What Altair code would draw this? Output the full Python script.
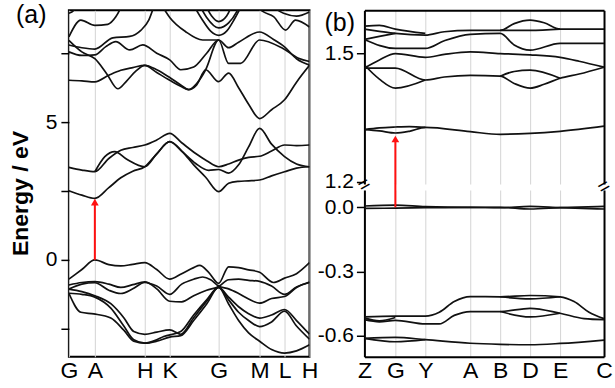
import altair as alt
import pandas as pd

FONT = "Liberation Sans"

# ---------------- k-path labels ----------------
A_KPOS = [0, 26, 76, 101, 150, 191, 216, 241]
A_KLAB = ["G", "A", "H", "K", "G", "M", "L", "H"]
B_KPOS = [0, 31, 61, 106, 136, 166, 196, 240]
B_KLAB = ["Z", "G", "Y", "A", "B", "D", "E", "C"]

# ---------------- energy axes ----------------
A_YDOMAIN = [-3.514, 9.058]
A_YTICKS = [-2.5, 0, 2.5, 5, 7.5]
A_YLABELED = [0, 5]
BU_YDOMAIN = [1.1946, 1.6012]
BU_YTICKS = [1.2, 1.5]
BL_YDOMAIN = [-0.698, 0.0807]
BL_YTICKS = [-0.6, -0.3, 0.0]

# ---------------- panel (a) bands: (k, E/eV) ----------------
A_V1 = [(0, -0.70), (13, -0.35), (26, 0.00), (40, -0.17), (52, -0.22), (64, -0.16), (76, -0.10), (88, -0.35),
        (101, -0.70), (113, -0.50), (125, -0.28), (131, -0.20), (140, -0.45), (150, -0.85), (160, -0.25),
        (170, -0.28), (180, -0.36), (191, -0.45), (205, -0.82), (216, -0.66), (228, -0.50), (241, -0.10)]
A_V2 = [(0, -0.91), (13, -0.82), (26, -0.79), (40, -0.88), (52, -1.00), (64, -0.90), (76, -0.80), (88, -1.05),
        (101, -1.50), (113, -1.52), (125, -1.30), (138, -1.10), (150, -0.97), (160, -0.72), (170, -0.70),
        (180, -0.74), (191, -0.78), (203, -0.95), (216, -1.25), (228, -0.98), (241, -0.82)]
A_V3 = [(0, -1.06), (13, -0.88), (26, -0.83), (40, -1.10), (52, -1.22), (64, -1.05), (76, -0.82), (88, -0.95),
        (101, -1.25), (113, -0.88), (125, -0.70), (134, -0.62), (142, -0.72), (150, -0.95), (160, -1.05),
        (170, -1.22), (180, -1.42), (191, -1.57), (203, -1.40), (216, -1.33), (228, -1.00), (241, -0.80)]
A_V4 = [(0, -1.06), (13, -1.15), (26, -1.30), (42, -1.59), (55, -2.10), (65, -2.60), (76, -2.70), (88, -2.62),
        (101, -2.54), (112, -2.70), (125, -2.10), (138, -1.50), (150, -1.00), (160, -1.35), (170, -1.70),
        (180, -1.95), (191, -2.11), (203, -2.00), (216, -1.80), (228, -2.20), (241, -2.70)]
A_V5 = [(0, -1.21), (12, -1.90), (25, -1.96), (42, -2.11), (55, -2.55), (65, -2.95), (76, -3.02), (88, -2.90),
        (95, -2.78), (112, -2.60), (125, -2.00), (138, -1.45), (150, -1.00), (160, -1.45), (170, -1.90),
        (180, -2.20), (191, -2.42), (203, -2.25), (216, -1.86), (228, -2.40), (241, -2.88)]
A_V6 = [(0, -1.21), (13, -1.25), (26, -1.35), (42, -1.75), (55, -2.40), (65, -2.90), (76, -3.02), (88, -2.95),
        (101, -2.80), (112, -2.75), (125, -2.20), (138, -1.60), (150, -1.00), (160, -1.60), (170, -2.20),
        (180, -2.65), (191, -2.95), (203, -3.25), (216, -3.38), (228, -3.30), (241, -3.08)]
A_C1 = [(0, 2.51), (13, 2.35), (26, 2.23), (40, 2.62), (52, 2.98), (64, 3.22), (76, 3.38), (88, 3.85), (101, 4.29),
        (113, 3.95), (125, 3.45), (137, 3.00), (150, 2.48), (160, 2.78), (170, 2.85), (180, 2.87), (191, 2.90),
        (203, 3.05), (216, 3.20), (228, 3.33), (241, 3.38)]
A_C2 = [(0, 3.36), (13, 3.26), (26, 3.20), (40, 3.68), (52, 3.98), (64, 4.08), (76, 4.17), (88, 4.35), (101, 4.59),
        (113, 4.25), (127, 3.86), (138, 3.60), (150, 3.38), (160, 3.48), (170, 3.62), (180, 3.72), (191, 3.76),
        (203, 3.95), (216, 4.17), (228, 4.15), (241, 4.17)]
A_C3 = [(26, 3.20), (36, 3.75), (46, 3.93), (58, 3.65), (76, 3.38), (88, 3.85), (101, 4.29), (113, 3.95),
        (127, 3.50), (140, 3.25), (150, 3.28), (160, 3.15), (170, 3.45), (180, 4.10), (191, 4.77), (203, 4.20),
        (216, 3.75), (228, 3.48), (241, 3.38)]
A_U1 = [(0, 6.52), (13, 6.50), (26, 6.46), (40, 6.70), (52, 6.88), (64, 6.98), (76, 7.06), (88, 6.80), (101, 6.52),
        (112, 6.30), (120, 6.18), (128, 6.35), (137, 6.90), (150, 6.47), (160, 6.78), (170, 6.25), (180, 5.65),
        (191, 5.13), (203, 5.45), (216, 5.81), (228, 6.45), (241, 7.06)]
A_U2 = [(0, 7.97), (13, 7.55), (26, 7.30), (38, 6.75), (49, 6.21), (58, 6.50), (67, 6.85), (76, 7.06), (88, 6.90),
        (101, 6.62), (112, 6.35), (120, 6.18), (128, 6.40), (137, 6.90), (150, 7.98), (160, 7.70), (170, 7.90),
        (191, 8.27), (205, 8.00), (216, 7.73), (228, 7.30), (241, 7.07)]
A_U3 = [(0, 7.55), (13, 7.42), (26, 7.44), (37, 7.74), (47, 7.92), (61, 7.62), (74, 7.80), (88, 7.50), (101, 7.26),
        (112, 6.90), (125, 7.00), (138, 7.50), (150, 7.98), (160, 7.13), (172, 7.13), (191, 7.98), (214, 7.68),
        (230, 7.32), (241, 7.20)]
A_U4 = [(0, 7.80), (13, 7.70), (26, 7.65), (44, 8.06), (61, 8.11), (72, 8.33), (80, 8.70), (86, 9.30)]
A_U5 = [(92, 9.30), (101, 8.80), (117, 8.28), (134, 7.98), (150, 7.98)]
A_T1 = [(124, 9.30), (133, 8.75), (142, 8.30), (150, 8.15), (158, 8.30), (166, 8.75), (174, 9.30)]
A_T2 = [(130, 9.30), (138, 8.80), (150, 8.42), (160, 8.60), (168, 9.00), (172, 9.30)]
A_T3 = [(136, 9.30), (143, 8.85), (150, 8.65), (158, 8.85), (164, 9.30)]
A_T4 = [(0, 8.09), (12, 8.70), (26, 8.51), (39, 8.55), (47, 8.82), (54, 9.30)]
A_T5 = [(0, 8.95), (5, 9.06), (8, 9.30)]
A_T6 = [(185, 9.30), (195, 9.00), (205, 8.83), (217, 8.34), (227, 8.70), (241, 8.45)]
A_T7 = [(200, 9.30), (215, 8.95), (228, 8.85), (241, 9.00)]

# ---------------- panel (b) bands ----------------
B_C1 = [(0, 1.322), (15, 1.319), (31, 1.314), (45, 1.318), (61, 1.327), (106, 1.317), (136, 1.311), (166, 1.313),
        (196, 1.318), (240, 1.330)]
B_C2 = [(0, 1.322), (15, 1.326), (31, 1.328), (45, 1.329), (61, 1.327)]
B_U1 = [(0, 1.564), (15, 1.566), (31, 1.557), (61, 1.547)]
B_U2 = [(0, 1.557), (15, 1.552), (31, 1.547), (61, 1.543), (80, 1.551), (106, 1.554), (136, 1.554), (150, 1.570),
        (166, 1.578), (180, 1.572), (196, 1.557), (240, 1.557)]
B_U3 = [(136, 1.554), (166, 1.554), (196, 1.557)]
B_U4 = [(0, 1.533), (15, 1.540), (31, 1.547)]
B_U5 = [(0, 1.533), (31, 1.512), (61, 1.512), (80, 1.530), (106, 1.545), (136, 1.547), (150, 1.520), (166, 1.508),
        (196, 1.524), (240, 1.524)]
B_U6 = [(0, 1.466), (15, 1.485), (31, 1.500), (61, 1.491), (80, 1.498), (106, 1.504), (136, 1.500), (166, 1.497),
        (196, 1.491), (215, 1.482), (240, 1.468)]
B_U7 = [(0, 1.466), (31, 1.466), (61, 1.438), (80, 1.445), (106, 1.449), (136, 1.447), (150, 1.430), (166, 1.419),
        (180, 1.428), (196, 1.442), (215, 1.452), (240, 1.468)]
B_U8 = [(0, 1.473), (15, 1.440), (31, 1.419), (61, 1.438)]
B_U9 = [(136, 1.447), (150, 1.458), (166, 1.461), (196, 1.442)]

B_V0A = [(0, 0.006), (31, 0.010), (61, 0.003), (106, 0.0), (136, 0.0), (166, -0.008), (196, -0.002), (240, 0.004)]
B_V0B = [(0, -0.005), (31, -0.004), (61, -0.002), (106, 0.0), (136, -0.002), (166, 0.004), (196, -0.002),
         (240, -0.008)]
B_V1 = [(0, -0.512), (31, -0.508), (61, -0.508), (75, -0.490), (90, -0.440), (106, -0.417), (136, -0.418),
        (166, -0.412), (196, -0.418), (210, -0.440), (225, -0.490), (240, -0.520)]
B_V2 = [(136, -0.418), (166, -0.428), (196, -0.418)]
B_V3 = [(0, -0.525), (15, -0.535), (31, -0.528), (61, -0.545), (75, -0.545), (90, -0.505), (106, -0.487),
        (136, -0.487), (166, -0.472), (196, -0.495), (220, -0.520), (240, -0.525)]
B_V4 = [(136, -0.487), (166, -0.512), (196, -0.495)]
B_V5 = [(0, -0.518), (15, -0.530), (31, -0.515)]
B_V6 = [(0, -0.612), (31, -0.608), (61, -0.618), (106, -0.635), (136, -0.640), (166, -0.642), (196, -0.636),
        (240, -0.620)]
B_V7 = [(0, -0.612), (31, -0.628), (61, -0.618)]

# red arrows: k, start E, arrow-head E
A_ARROW = [26, 0.0, 2.10]
BL_ARROW = [31, 0.0, 0.109]
BU_ARROW = [31, 1.1946, 1.300]

PANEL_TAGS = ["(a)", "(b)"]
Y_TITLE = "Energy / eV"


def to_df(bands):
    rows = []
    for name, pts in bands.items():
        for k, e in pts:
            rows.append({"band": name, "k": k, "E": e})
    return pd.DataFrame(rows)


def lab_expr(pos, labs):
    s = ""
    for p, l in zip(pos, labs):
        s += f"datum.value == {p} ? '{l}' : "
    return s + "''"


df_a = to_df({"v1": A_V1, "v2": A_V2, "v3": A_V3, "v4": A_V4, "v5": A_V5, "v6": A_V6,
              "c1": A_C1, "c2": A_C2, "c3": A_C3, "u1": A_U1, "u2": A_U2, "u3": A_U3, "u4": A_U4,
              "u5": A_U5, "t1": A_T1, "t2": A_T2, "t3": A_T3, "t4": A_T4, "t5": A_T5, "t6": A_T6, "t7": A_T7})
df_bu = to_df({"c1": B_C1, "c2": B_C2, "u1": B_U1, "u2": B_U2, "u3": B_U3, "u4": B_U4, "u5": B_U5,
               "u6": B_U6, "u7": B_U7, "u8": B_U8, "u9": B_U9})
df_bl = to_df({"a": B_V0A, "b": B_V0B, "v1": B_V1, "v2": B_V2, "v3": B_V3, "v4": B_V4, "v5": B_V5,
               "v6": B_V6, "v7": B_V7})

LINE = dict(color="#111111", strokeWidth=1.7, interpolate="monotone", clip=True)
RED = "#ff1010"
GRID = "#d4d4d4"
A_W, A_H = 241, 347
B_W, BU_H, BL_H = 240, 174, 167
XLAB_SIZE = 23
YLAB_SIZE = 21

# ================= panel (a) =================
xa = alt.Scale(domain=[0, 241], nice=False, zero=False)
ya = alt.Scale(domain=A_YDOMAIN, nice=False, zero=False)
ya_lab = " || ".join(f"datum.value == {v}" for v in A_YLABELED) + " ? datum.label : ''"

a_lines = alt.Chart(df_a).mark_line(**LINE).encode(
    x=alt.X("k:Q", scale=xa, axis=alt.Axis(
        values=A_KPOS, labelExpr=lab_expr(A_KPOS, A_KLAB), title=None, grid=True, gridColor=GRID,
        gridWidth=1, ticks=False, domain=False, labelFont=FONT, labelFontSize=XLAB_SIZE, labelColor="black",
        labelPadding=3, labelFlush=False, labelOverlap=False)),
    y=alt.Y("E:Q", scale=ya, axis=alt.Axis(
        values=A_YTICKS, labelExpr=ya_lab, title=Y_TITLE, titleFont=FONT, titleFontSize=23,
        titleFontWeight="bold", titleColor="black", titleAngle=270, titleX=-36, titleY=183,
        titleAlign="center", titleBaseline="bottom", tickSize=8, tickWidth=1.5, tickColor="black",
        domain=False, grid=False, labelFont=FONT, labelFontSize=YLAB_SIZE, labelColor="black", labelPadding=4)),
    detail="band:N",
)
df_aa = pd.DataFrame({"k": [A_ARROW[0]], "E": [A_ARROW[1]], "E2": [A_ARROW[2]]})
a_rule = alt.Chart(df_aa).mark_rule(color=RED, strokeWidth=2).encode(
    x=alt.X("k:Q", scale=xa, axis=None), y=alt.Y("E:Q", scale=ya, axis=None), y2="E2:Q")
a_head = alt.Chart(df_aa).mark_point(shape="triangle-up", filled=True, size=60, color=RED, opacity=1).encode(
    x=alt.X("k:Q", scale=xa, axis=None), y=alt.Y("E2:Q", scale=ya, axis=None))
a_tag = alt.Chart(pd.DataFrame({"t": [PANEL_TAGS[0]]})).mark_text(
    font=FONT, fontSize=25, align="left", baseline="alphabetic", color="black").encode(
    x=alt.value(-53), y=alt.value(13), text="t:N")

pa = alt.layer(a_lines, a_rule, a_head, a_tag).resolve_axis(x="independent", y="independent").properties(
    width=A_W, height=A_H, view=alt.ViewBackground(stroke="black", strokeWidth=2))

# ================= panel (b) =================
xb = alt.Scale(domain=[0, 240], nice=False, zero=False)
ybu = alt.Scale(domain=BU_YDOMAIN, nice=False, zero=False)
ybl = alt.Scale(domain=BL_YDOMAIN, nice=False, zero=False)
neg_fmt = "datum.value < 0 ? '-' + format(-datum.value, '.1f') : format(datum.value, '.1f')"

ycommon = dict(title=None, tickSize=8, tickWidth=1.5, tickColor="black", domain=True, domainColor="black",
               domainWidth=2, grid=False, labelFont=FONT, labelFontSize=YLAB_SIZE, labelColor="black",
               labelPadding=3)
right_axis = dict(orient="right", labels=False, ticks=False, domain=True, domainColor="black",
                  domainWidth=2, grid=False, title=None)

bu_lines = alt.Chart(df_bu).mark_line(**LINE).encode(
    x=alt.X("k:Q", scale=xb, axis=alt.Axis(
        orient="top", values=B_KPOS[1:-1], labels=False, ticks=False, domain=True, domainColor="black",
        domainWidth=2, grid=True, gridColor=GRID, gridWidth=1, title=None)),
    y=alt.Y("E:Q", scale=ybu, axis=alt.Axis(values=BU_YTICKS, labelExpr=neg_fmt, **ycommon)),
    detail="band:N",
)
bu_right = alt.Chart(df_bu).mark_line(opacity=0).encode(
    x=alt.X("k:Q", scale=xb, axis=None), y=alt.Y("E:Q", scale=ybu, axis=alt.Axis(**right_axis)),
    detail="band:N")
df_bua = pd.DataFrame({"k": [BU_ARROW[0]], "E": [BU_ARROW[1]], "E2": [BU_ARROW[2]]})
bu_rule = alt.Chart(df_bua).mark_rule(color=RED, strokeWidth=2).encode(
    x=alt.X("k:Q", scale=xb, axis=None), y=alt.Y("E:Q", scale=ybu, axis=None), y2="E2:Q")
bu_head = alt.Chart(df_bua).mark_point(shape="triangle-up", filled=True, size=60, color=RED, opacity=1).encode(
    x=alt.X("k:Q", scale=xb, axis=None), y=alt.Y("E2:Q", scale=ybu, axis=None))
b_tag = alt.Chart(pd.DataFrame({"t": [PANEL_TAGS[1]]})).mark_text(
    font=FONT, fontSize=25, align="left", baseline="alphabetic", color="black").encode(
    x=alt.value(-40), y=alt.value(21), text="t:N")
brk = pd.DataFrame({"t": ["="]})
brk_l = alt.Chart(brk).mark_text(font=FONT, fontSize=20, angle=330, color="black").encode(
    x=alt.value(0), y=alt.value(175), text="t:N")
brk_r = alt.Chart(brk).mark_text(font=FONT, fontSize=20, angle=330, color="black").encode(
    x=alt.value(B_W), y=alt.value(177), text="t:N")

bu = alt.layer(bu_lines, bu_right, bu_rule, bu_head, b_tag, brk_l, brk_r).resolve_axis(
    x="independent", y="independent").properties(width=B_W, height=BU_H)

bl_lines = alt.Chart(df_bl).mark_line(**LINE).encode(
    x=alt.X("k:Q", scale=xb, axis=alt.Axis(
        values=B_KPOS, labelExpr=lab_expr(B_KPOS, B_KLAB), title=None, grid=True, gridColor=GRID,
        gridWidth=1, ticks=False, domain=True, domainColor="black", domainWidth=2, labelFont=FONT,
        labelFontSize=XLAB_SIZE, labelColor="black", labelPadding=3, labelFlush=False, labelOverlap=False)),
    y=alt.Y("E:Q", scale=ybl, axis=alt.Axis(values=BL_YTICKS, labelExpr=neg_fmt, **ycommon)),
    detail="band:N",
)
bl_right = alt.Chart(df_bl).mark_line(opacity=0).encode(
    x=alt.X("k:Q", scale=xb, axis=None), y=alt.Y("E:Q", scale=ybl, axis=alt.Axis(**right_axis)),
    detail="band:N")
df_bla = pd.DataFrame({"k": [BL_ARROW[0]], "E": [BL_ARROW[1]], "E2": [BL_ARROW[2]]})
bl_rule = alt.Chart(df_bla).mark_rule(color=RED, strokeWidth=2).encode(
    x=alt.X("k:Q", scale=xb, axis=None), y=alt.Y("E:Q", scale=ybl, axis=None), y2="E2:Q")

bl = alt.layer(bl_lines, bl_right, bl_rule).resolve_axis(
    x="independent", y="independent").properties(width=B_W, height=BL_H)

pb = alt.vconcat(bu, bl, spacing=6, bounds="flush")

chart = alt.hconcat(pa, pb, spacing=55, bounds="flush").properties(
    padding={"left": 9, "top": 2, "right": 0, "bottom": 0}, background="white"
).configure_view(strokeWidth=0)

chart.save("out.html", embed_options={"renderer": "svg", "actions": False})
